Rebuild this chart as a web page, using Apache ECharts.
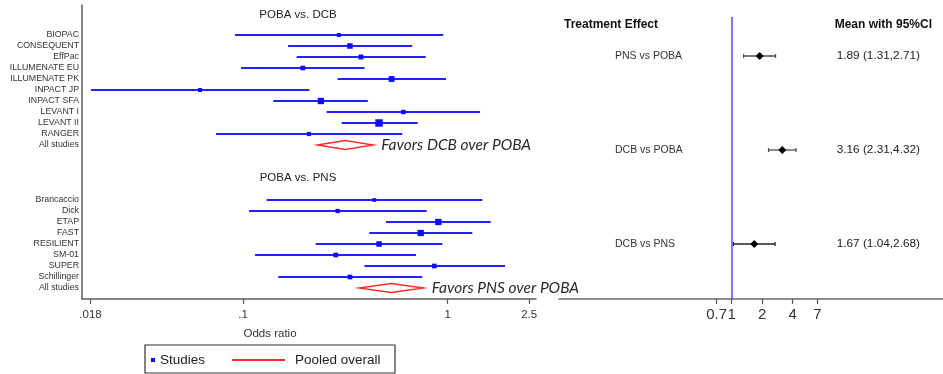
<!DOCTYPE html>
<html><head><meta charset="utf-8">
<script src="https://cdn.jsdelivr.net/npm/echarts@6/dist/echarts.min.js"></script>
<style>html,body{margin:0;padding:0;background:#fff}#c{width:943px;height:374px}</style>
</head><body><div id="c"></div>
<script>
// ---- Left panel: POBA vs. DCB ----
const dcbStudies = ['BIOPAC','CONSEQUENT','EffPac','ILLUMENATE EU','ILLUMENATE PK','INPACT JP','INPACT SFA','LEVANT I','LEVANT II','RANGER'];
const dcbOR   = [0.294, 0.333, 0.377, 0.196, 0.532, 0.0617, 0.240, 0.607, 0.462, 0.210];
const dcbLow  = [0.0914, 0.166, 0.183, 0.0978, 0.290, 0.0181, 0.1406, 0.256, 0.3035, 0.0738];
const dcbHigh = [0.952, 0.671, 0.781, 0.392, 0.981, 0.211, 0.407, 1.438, 0.713, 0.600];
const dcbWeight = [16, 30, 24, 22, 34, 16, 40, 20, 56, 18];
const dcbPooled = [0.231, 0.316, 0.433];
// ---- Left panel: POBA vs. PNS ----
const pnsStudies = ['Brancaccio','Dick','ETAP','FAST','RESILIENT','SM-01','SUPER','Schillinger'];
const pnsOR   = [0.438, 0.290, 0.900, 0.738, 0.462, 0.284, 0.860, 0.333];
const pnsLow  = [0.1305, 0.107, 0.4995, 0.414, 0.2265, 0.1145, 0.392, 0.1487];
const pnsHigh = [1.476, 0.790, 1.622, 1.319, 0.941, 0.700, 1.905, 0.751];
const pnsWeight = [14, 18, 40, 40, 30, 22, 22, 22];
const pnsPooled = [0.369, 0.529, 0.763];
const groupTitles = ['POBA vs. DCB', 'POBA vs. PNS'];
const favorsLabels = ['Favors DCB over POBA', 'Favors PNS over POBA'];
const leftTicks = [0.018, 0.1, 1, 2.5];
const leftTickLabels = ['.018', '.1', '1', '2.5'];
// ---- Right panel: network comparisons ----
const comparisons = ['PNS vs POBA', 'DCB vs POBA', 'DCB vs PNS'];
const compMean = [1.89, 3.16, 1.67];
const compLow  = [1.31, 2.31, 1.04];
const compHigh = [2.71, 4.32, 2.68];
const rightTicks = [0.71, 1, 2, 4, 7];
const rightTickLabels = ['0.7', '1', '2', '4', '7'];

const L = Math.log10;
const FONT = 'Liberation Sans';
const pnsStart = 15;
const rowNames = {};
dcbStudies.forEach((s, i) => rowNames[i] = s);
rowNames[dcbStudies.length] = 'All studies';
pnsStudies.forEach((s, i) => rowNames[pnsStart + i] = s);
rowNames[pnsStart + pnsStudies.length] = 'All studies';
const rowIdx = Object.keys(rowNames).map(Number);

const studyData = [];
dcbStudies.forEach((s, i) => studyData.push([L(dcbLow[i]), L(dcbOR[i]), L(dcbHigh[i]), i, dcbWeight[i]]));
pnsStudies.forEach((s, i) => studyData.push([L(pnsLow[i]), L(pnsOR[i]), L(pnsHigh[i]), pnsStart + i, pnsWeight[i]]));
const pooledData = [
  [L(dcbPooled[0]), L(dcbPooled[1]), L(dcbPooled[2]), dcbStudies.length],
  [L(pnsPooled[0]), L(pnsPooled[1]), L(pnsPooled[2]), pnsStart + pnsStudies.length]
];
const compData = comparisons.map((c, i) => [L(compLow[i]), L(compMean[i]), L(compHigh[i]), i]);

const findLbl = (ticks, labels, v) => {
  const k = ticks.findIndex(t => Math.abs(L(t) - v) < 1e-6);
  return k < 0 ? '' : labels[k];
};
const fmt2 = v => v.toFixed(2);

function renderStudy(params, api) {
  const y = api.value(3);
  const a = api.coord([api.value(0), y]), m = api.coord([api.value(1), y]), b = api.coord([api.value(2), y]);
  const s = Math.sqrt(api.value(4));
  return {type: 'group', children: [
    {type: 'line', shape: {x1: a[0], y1: a[1], x2: b[0], y2: b[1]}, style: {stroke: '#2222ff', lineWidth: 1.8}},
    {type: 'rect', shape: {x: m[0] - s / 2, y: m[1] - s / 2, width: s, height: s}, style: {fill: '#0c0cff'}}
  ]};
}
function renderPooled(params, api) {
  const y = api.value(3);
  const a = api.coord([api.value(0), y]), m = api.coord([api.value(1), y]), b = api.coord([api.value(2), y]);
  const h = 4.5;
  return {type: 'group', children: [
    {type: 'polygon', shape: {points: [[a[0], a[1]], [m[0], m[1] - h], [b[0], b[1]], [m[0], m[1] + h]]},
     style: {fill: 'none', stroke: '#ff2a2a', lineWidth: 1.4}},
    {type: 'text', x: b[0] + 8, y: b[1],
     style: {text: favorsLabels[params.dataIndex], fill: '#2a2a2a', font: 'italic 15.5px Lato', align: 'left', verticalAlign: 'middle'}}
  ]};
}
function renderComp(params, api) {
  const y = api.value(3);
  const a = api.coord([api.value(0), y]), m = api.coord([api.value(1), y]), b = api.coord([api.value(2), y]);
  const c = params.dataIndex < 2 ? '#5e4646' : '#222';
  const d = 4;
  return {type: 'group', children: [
    {type: 'line', shape: {x1: a[0], y1: a[1], x2: b[0], y2: b[1]}, style: {stroke: c, lineWidth: 1.3}},
    {type: 'line', shape: {x1: a[0], y1: a[1] - 2, x2: a[0], y2: a[1] + 2}, style: {stroke: c, lineWidth: 1.2}},
    {type: 'line', shape: {x1: b[0], y1: b[1] - 2, x2: b[0], y2: b[1] + 2}, style: {stroke: c, lineWidth: 1.2}},
    {type: 'polygon', shape: {points: [[m[0] - d, m[1]], [m[0], m[1] - d], [m[0] + d, m[1]], [m[0], m[1] + d]]}, style: {fill: '#000'}}
  ]};
}

const axisGray = '#5a5a5a';
const chart = echarts.init(document.getElementById('c'), null, {renderer: 'canvas'});
chart.setOption({
  animation: false,
  textStyle: {fontFamily: FONT},
  grid: [
    {left: 82, top: 5, width: 454, height: 294},
    {left: 559, top: 17, width: 384, height: 282}
  ],
  xAxis: [
    {gridIndex: 0, type: 'value', min: -1.7865, max: 0.4314, splitLine: {show: false},
     axisLine: {show: true, onZero: false, lineStyle: {color: axisGray, width: 1.5}},
     axisTick: {show: true, customValues: leftTicks.map(L), length: 5, lineStyle: {color: axisGray, width: 1.2}},
     axisLabel: {customValues: leftTicks.map(L), formatter: v => findLbl(leftTicks, leftTickLabels, v),
                 margin: 10, fontSize: 11.5, color: '#333', fontFamily: FONT}},
    {gridIndex: 1, type: 'value', min: -1.705, max: 2.086, splitLine: {show: false},
     axisLine: {show: true, onZero: false, lineStyle: {color: '#6a6a6a', width: 1.5}},
     axisTick: {show: true, customValues: rightTicks.map(L), length: 5, lineStyle: {color: '#555', width: 1.2}},
     axisLabel: {customValues: rightTicks.map(L), formatter: v => findLbl(rightTicks, rightTickLabels, v),
                 margin: 8, fontSize: 15, color: '#333', fontFamily: FONT}}
  ],
  yAxis: [
    {gridIndex: 0, type: 'value', inverse: true, min: -2.727, max: 24, splitLine: {show: false},
     axisLine: {show: true, onZero: false, lineStyle: {color: axisGray, width: 1.5}}, axisTick: {show: false},
     axisLabel: {customValues: rowIdx, formatter: v => rowNames[v] || '', margin: 3, fontSize: 8.8, color: '#333', fontFamily: FONT}},
    {gridIndex: 1, type: 'value', inverse: true, min: -0.415, max: 2.585, splitLine: {show: false},
     axisLine: {show: false, onZero: false}, axisTick: {show: false},
     axisLabel: {customValues: [0, 1, 2], formatter: v => comparisons[v], align: 'left', margin: -56,
                 fontSize: 10.5, color: '#333', fontFamily: FONT, padding: [0, 0, 5, 0]}},
    {gridIndex: 1, type: 'value', position: 'right', inverse: true, min: -0.415, max: 2.585, splitLine: {show: false},
     axisLine: {show: false, onZero: false}, axisTick: {show: false},
     axisLabel: {customValues: [0, 1, 2], formatter: v => fmt2(compMean[v]) + ' (' + fmt2(compLow[v]) + ',' + fmt2(compHigh[v]) + ')',
                 align: 'right', margin: -23, fontSize: 11.8, color: '#222', fontFamily: FONT}}
  ],
  legend: [
    {data: [{name: 'Studies', icon: 'rect'}], left: 151, top: 353, padding: 0, itemWidth: 4, itemHeight: 4,
     selectedMode: false, textStyle: {fontSize: 13.5, color: '#222', fontFamily: FONT}},
    {data: [{name: 'Pooled overall', icon: 'rect'}], left: 232, top: 353, padding: 0, itemWidth: 53, itemHeight: 2,
     selectedMode: false, textStyle: {fontSize: 13.5, color: '#222', fontFamily: FONT, padding: [0, 0, 0, 5]}}
  ],
  graphic: [
    {type: 'text', x: 298, y: 15, style: {text: groupTitles[0], font: '11.5px "Liberation Sans"', fill: '#222', align: 'center', verticalAlign: 'middle'}},
    {type: 'text', x: 298, y: 178, style: {text: groupTitles[1], font: '11.5px "Liberation Sans"', fill: '#222', align: 'center', verticalAlign: 'middle'}},
    {type: 'text', x: 270, y: 334, style: {text: 'Odds ratio', font: '11.5px "Liberation Sans"', fill: '#333', align: 'center', verticalAlign: 'middle'}},
    {type: 'text', x: 564, y: 25, style: {text: 'Treatment Effect', font: 'bold 12px "Liberation Sans"', fill: '#111', align: 'left', verticalAlign: 'middle'}},
    {type: 'text', x: 932, y: 25, style: {text: 'Mean with 95%CI', font: 'bold 12px "Liberation Sans"', fill: '#111', align: 'right', verticalAlign: 'middle'}},
    {type: 'rect', shape: {x: 145, y: 345, width: 250, height: 28}, style: {fill: 'none', stroke: '#333', lineWidth: 1.2}}
  ],
  series: [
    {name: 'Studies', type: 'custom', xAxisIndex: 0, yAxisIndex: 0, renderItem: renderStudy,
     encode: {x: [0, 1, 2], y: 3}, data: studyData, itemStyle: {color: '#1010ff'}},
    {name: 'Pooled overall', type: 'custom', xAxisIndex: 0, yAxisIndex: 0, renderItem: renderPooled,
     encode: {x: [0, 1, 2], y: 3}, data: pooledData, itemStyle: {color: '#ff2a2a'}},
    {name: 'Comparisons', type: 'custom', xAxisIndex: 1, yAxisIndex: 1, renderItem: renderComp,
     encode: {x: [0, 1, 2], y: 3}, data: compData, z: 3,
     markLine: {silent: true, symbol: 'none', label: {show: false}, data: [{xAxis: 0}],
                lineStyle: {color: '#4b4bff', width: 1.5, type: 'solid'}}}
  ]
});
</script></body></html>
